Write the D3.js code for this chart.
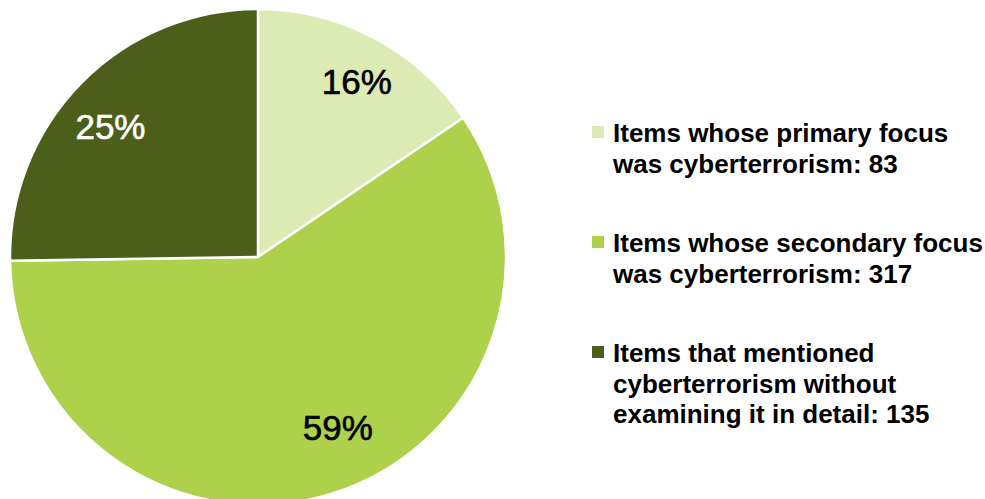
<!DOCTYPE html>
<html>
<head>
<meta charset="utf-8">
<script src="https://cdn.jsdelivr.net/npm/d3@7"></script>
<style>
  body { margin: 0; background: #fff; }
  svg { display: block; }
</style>
</head>
<body>
<div class="chart"></div>
<script>
'use strict';

// data
var categories = [
  'Items whose primary focus was cyberterrorism',
  'Items whose secondary focus was cyberterrorism',
  'Items that mentioned cyberterrorism without examining it in detail'
];
var counts = [83, 317, 135];
var legendLines = [
  ['Items whose primary focus', 'was cyberterrorism: 83'],
  ['Items whose secondary focus', 'was cyberterrorism: 317'],
  ['Items that mentioned', 'cyberterrorism without', 'examining it in detail: 135']
];
var colors = ['#dcebb4', '#add14a', '#4b5f1a'];
var labelColors = ['#000', '#000', '#fff'];

var width = 985,
  height = 499,
  cx = 258,
  cy = 257,
  radius = 248;

// small "best fit" nudges for the percentage labels (px)
var labelNudge = [[7, -3], [21, -16], [-8, 7]];

var data = categories.map(function(c, i) {
  return {name: c, value: counts[i], color: colors[i], labelColor: labelColors[i], lines: legendLines[i], nudge: labelNudge[i]};
});
var total = d3.sum(counts);

var svg = d3.select('.chart').append('svg')
  .attr('width', width)
  .attr('height', height);

var pie = d3.pie()
  .sort(null)
  .value(function(d) { return d.value; });

var arc = d3.arc()
  .innerRadius(0)
  .outerRadius(radius);

var labelArc = d3.arc()
  .innerRadius(radius * 0.79)
  .outerRadius(radius * 0.79);

var g = svg.append('g')
  .attr('transform', 'translate(' + cx + ',' + cy + ')');

var arcs = pie(data);

g.selectAll('.slice')
  .data(arcs)
  .enter().append('path')
  .attr('class', 'slice')
  .attr('d', arc)
  .attr('fill', function(d) { return d.data.color; })
  .attr('stroke', '#fff')
  .attr('stroke-width', 2.5)
  .attr('stroke-linejoin', 'round');

g.selectAll('.pct')
  .data(arcs)
  .enter().append('text')
  .attr('class', 'pct')
  .attr('transform', function(d) {
    var c = labelArc.centroid(d);
    return 'translate(' + (c[0] + d.data.nudge[0]) + ',' + (c[1] + d.data.nudge[1]) + ')';
  })
  .attr('text-anchor', 'middle')
  .attr('dy', '0.36em')
  .attr('font-family', '"Liberation Sans", Arial, sans-serif')
  .attr('font-size', 35)
  .attr('fill', function(d) { return d.data.labelColor; })
  .attr('stroke', function(d) { return d.data.labelColor; })
  .attr('stroke-width', 0.6)
  .text(function(d) { return Math.round(d.data.value / total * 100) + '%'; });

// legend
var legend = svg.append('g')
  .attr('transform', 'translate(592,0)');

var item = legend.selectAll('.item')
  .data(data)
  .enter().append('g')
  .attr('class', 'item')
  .attr('transform', function(d, i) { return 'translate(0,' + (142 + i * 110) + ')'; });

item.append('rect')
  .attr('x', 0)
  .attr('y', -16)
  .attr('width', 12)
  .attr('height', 12)
  .attr('fill', function(d) { return d.color; });

item.append('text')
  .attr('font-family', '"Liberation Sans", Arial, sans-serif')
  .attr('font-weight', 'bold')
  .attr('font-size', 26)
  .attr('fill', '#000')
  .selectAll('tspan')
  .data(function(d) { return d.lines; })
  .enter().append('tspan')
  .attr('x', 21)
  .attr('y', function(d, i) { return i * 30.5; })
  .text(function(d) { return d; });
</script>
</body>
</html>
